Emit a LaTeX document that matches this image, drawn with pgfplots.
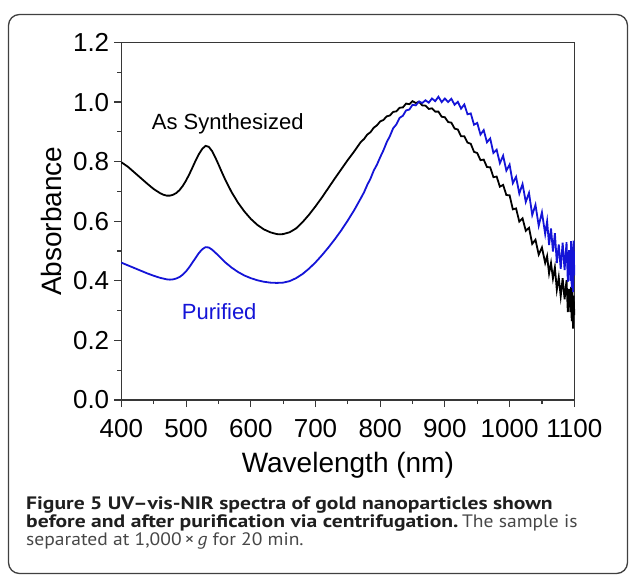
\documentclass[border=0pt]{standalone}
\usepackage{pgfplots}
\pgfplotsset{compat=1.18}
\usepackage{fontspec}
\setmainfont{Liberation Sans}
\newfontfamily\capb{PT Sans}[FakeStretch=1.2]
\newfontfamily\capr{PT Sans}[FakeStretch=1.087]
\definecolor{pblue}{RGB}{20,20,215}
\definecolor{axgray}{RGB}{55,55,55}
\begin{document}
\begin{tikzpicture}[x=1pt,y=1pt]
\useasboundingbox (0,-575) rectangle (629,0);
\draw[line width=1.3pt, color=black!75, rounded corners=11pt] (8.5,-14.5) rectangle (627.5,-573.5);
\begin{axis}[
  at={(121.4pt,-400pt)}, anchor=south west,
  scale only axis, width=452.9pt, height=357.5pt,
  xmin=400, xmax=1100, ymin=0, ymax=1.2,
  axis line style={axgray, line width=1.2pt},
  every tick/.style={axgray, line width=1.2pt},
  tick align=outside, xtick pos=bottom, ytick pos=left,
  major tick length=7pt, minor tick length=4pt,
  xtick={400,500,600,700,800,900,1000,1100},
  ytick={0,0.2,0.4,0.6,0.8,1.0,1.2},
  minor x tick num=1, minor y tick num=1,
  /pgf/number format/assume math mode=true,
  ticklabel style={font=\fontsize{26}{26}\selectfont},
  yticklabel style={/pgf/number format/fixed, /pgf/number format/fixed zerofill, /pgf/number format/precision=1, anchor=east, inner sep=0pt, xshift=-5pt},
  xticklabel style={/pgf/number format/1000 sep={}, anchor=base, inner sep=0pt, yshift=-30pt},
  xlabel={Wavelength (nm)}, ylabel={Absorbance},
  label style={font=\fontsize{28}{28}\selectfont},
  xlabel style={at={(axis description cs:0.5,0)}, anchor=base, inner sep=0pt, yshift=-72pt},
  ylabel style={at={(axis description cs:0,0.5)}, anchor=base, inner sep=0pt, yshift=59.7pt},
  clip=false,
]
\addplot[black, line width=1.8pt] coordinates {
(400,0.798)(410,0.783)(420,0.764)(430,0.745)(440,0.726)(450,0.708)(460,0.694)(465,0.689)(470,0.686)(475,0.686)(480,0.689)(485,0.695)(490,0.705)(495,0.719)(500,0.737)(505,0.758)(510,0.781)(515,0.805)(520,0.826)(525,0.843)(530,0.853)(535,0.850)(540,0.836)(545,0.815)(550,0.791)(555,0.766)(560,0.742)(570,0.699)(580,0.663)(590,0.633)(600,0.608)(610,0.588)(620,0.573)(630,0.563)(640,0.557)(645,0.556)(650,0.557)(660,0.563)(670,0.576)(680,0.597)(690,0.622)(700,0.650)(710,0.680)(720,0.712)(730,0.744)(740,0.775)(750,0.806)(760,0.835)(770,0.866)(775,0.876)(780,0.891)(785,0.899)(790,0.914)(795,0.922)(800,0.935)(805,0.940)(810,0.952)(815,0.955)(820,0.967)(825,0.969)(830,0.981)(835,0.982)(840,0.995)(845,0.993)
(850,1.003)(855,0.997)(860,1.001)(865,0.989)(870,0.988)(875,0.977)(880,0.979)(885,0.968)(890,0.968)(895,0.951)(900,0.949)(905,0.933)(910,0.931)(915,0.911)(920,0.908)(925,0.885)(930,0.885)(935,0.864)(940,0.860)(945,0.833)(950,0.829)(955,0.805)(960,0.807)(965,0.782)(970,0.781)(975,0.748)(980,0.750)(985,0.716)(990,0.722)(995,0.688)(1000,0.687)(1005,0.640)(1010,0.643)(1015,0.599)(1020,0.610)(1025,0.568)(1030,0.578)(1035,0.524)(1040,0.538)(1045,0.488)(1050,0.512)(1055,0.460)(1058,0.483)(1061,0.425)(1064,0.460)(1067,0.408)(1070,0.445)(1073,0.370)(1076,0.412)(1079,0.348)(1082,0.409)(1085,0.338)(1088,0.402)(1090,0.295)(1092,0.373)(1094,0.295)(1095,0.380)(1096,0.265)(1097,0.362)(1098,0.240)(1099,0.350)(1100,0.285)
};
\addplot[pblue, line width=1.8pt] coordinates {
(400,0.461)(410,0.452)(420,0.443)(430,0.434)(440,0.425)(450,0.417)(460,0.410)(470,0.405)(475,0.404)(480,0.405)(485,0.408)(490,0.413)(495,0.421)(500,0.432)(505,0.446)(510,0.462)(515,0.478)(520,0.494)(525,0.506)(530,0.513)(535,0.512)(540,0.505)(545,0.495)(550,0.485)(560,0.463)(570,0.445)(580,0.430)(590,0.418)(600,0.409)(610,0.402)(620,0.397)(630,0.394)(640,0.393)(650,0.394)(660,0.399)(670,0.409)(680,0.423)(690,0.441)(700,0.462)(710,0.486)(720,0.512)(730,0.540)(740,0.570)(750,0.603)(760,0.638)(770,0.677)(775,0.697)(780,0.722)(785,0.743)(790,0.770)(795,0.790)(800,0.815)(805,0.838)(810,0.865)(815,0.886)(820,0.912)(825,0.925)(830,0.947)(835,0.954)(840,0.972)(845,0.975)
(850,0.991)(855,0.989)(860,1.002)(865,0.997)(870,1.006)(875,0.998)(880,1.012)(885,1.003)(890,1.018)(895,1.000)(900,1.012)(905,1.000)(910,1.011)(915,0.991)(920,1.001)(925,0.978)(930,0.992)(935,0.959)(940,0.962)(945,0.924)(950,0.930)(955,0.891)(960,0.906)(965,0.865)(970,0.878)(975,0.829)(980,0.840)(985,0.795)(990,0.820)(995,0.770)(1000,0.790)(1005,0.728)(1010,0.749)(1015,0.693)(1020,0.725)(1025,0.665)(1030,0.695)(1035,0.621)(1040,0.655)(1045,0.585)(1050,0.630)(1055,0.557)(1058,0.600)(1061,0.520)(1064,0.576)(1067,0.498)(1070,0.560)(1073,0.460)(1076,0.522)(1079,0.440)(1082,0.528)(1085,0.436)(1088,0.530)(1090,0.397)(1092,0.503)(1094,0.400)(1095,0.533)(1096,0.376)(1097,0.514)(1098,0.362)(1099,0.535)(1100,0.418)
};
\node[anchor=base west, inner sep=0pt, font=\fontsize{22}{22}\selectfont] at (axis cs:446.8,0.9087) {As Synthesized};
\node[anchor=base west, inner sep=0pt, text=pblue, font=\fontsize{22}{22}\selectfont] at (axis cs:493.2,0.2709) {Purified};
\end{axis}
\node[anchor=base west, inner sep=0pt, text=black!88, font=\capb\bfseries\fontsize{18}{18}\selectfont] at (26,-509.5) {Figure 5 UV–vis-NIR spectra of gold nanoparticles shown};
\node[anchor=base west, inner sep=0pt, text=black!88] at (26,-527.5) {{\capb\bfseries\fontsize{18}{18}\selectfont before and after purification via centrifugation.} {\capr\fontsize{18}{18}\selectfont\color{black!72}The sample is}};
\node[anchor=base west, inner sep=0pt, text=black!72, font=\capr\fontsize{18}{18}\selectfont] at (26,-545.5) {separated at 1,000\,×\,\textit{g} for 20 min.};
\end{tikzpicture}
\end{document}
